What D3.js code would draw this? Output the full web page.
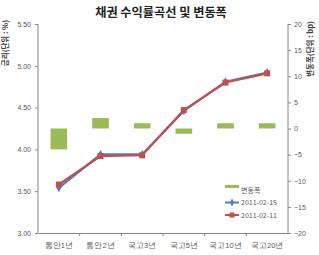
<!DOCTYPE html>
<html>
<head>
<meta charset="utf-8">
<script src="https://cdn.jsdelivr.net/npm/d3@7"></script>
<style>
  body { margin: 0; background: #fff; }
  svg { font-family: "Noto Sans CJK KR", "Noto Sans", sans-serif; }
</style>
</head>
<body>
<svg></svg>
<script>
const w = 319, h = 255;
const m = { top: 24, right: 31, bottom: 22, left: 38 };

const categories = ['통안1년', '통안2년', '국고3년', '국고5년', '국고10년', '국고20년'];
const yield0215 = [3.54, 3.94, 3.94, 4.46, 4.81, 4.92];
const yield0211 = [3.58, 3.92, 3.93, 4.47, 4.80, 4.91];
const changeBp = [-4, 2, 1, -1, 1, 1];
const leftTicks = [3.00, 3.50, 4.00, 4.50, 5.00, 5.50];
const rightTicks = [-20, -15, -10, -5, 0, 5, 10, 15, 20];

const svg = d3.select('svg').attr('width', w).attr('height', h);

const x = d3.scaleBand().domain(categories).range([m.left, w - m.right]);
const y = d3.scaleLinear().domain([3, 5.5]).range([h - m.bottom, m.top]);
const y2 = d3.scaleLinear().domain([-20, 20]).range([h - m.bottom, m.top]);

const gray = '#868686';
const txt = '#595959';

// title
svg.append('text')
  .attr('x', 161).attr('y', 17)
  .attr('text-anchor', 'middle')
  .attr('font-size', 12.2).attr('font-weight', 'bold').attr('fill', '#222')
  .text('채권 수익률곡선 및 변동폭');

// bars (change, right axis)
svg.append('g').selectAll('rect')
  .data(changeBp)
  .enter()
  .append('rect')
  .attr('x', (d, i) => x(categories[i]) + x.bandwidth() * 0.3)
  .attr('width', x.bandwidth() * 0.4)
  .attr('y', d => y2(Math.max(0, d)))
  .attr('height', d => Math.abs(y2(d) - y2(0)))
  .attr('fill', '#9BBB59');

// axes
const yAxis = d3.axisLeft(y).tickValues(leftTicks).tickFormat(d3.format('.2f')).tickSize(3).tickPadding(4);
const gy = svg.append('g').attr('transform', 'translate(' + m.left + ',0)').call(yAxis);

const y2Axis = d3.axisRight(y2).tickValues(rightTicks).tickSize(3).tickPadding(3);
const gy2 = svg.append('g').attr('transform', 'translate(' + (w - m.right) + ',0)').call(y2Axis);

const xAxis = d3.axisBottom(x).tickSize(0).tickPadding(10);
const gx = svg.append('g').attr('transform', 'translate(0,' + (h - m.bottom) + ')').call(xAxis);

// ticks between categories
gx.selectAll('.sep')
  .data(categories.slice(1))
  .enter()
  .append('line')
  .attr('x1', d => x(d)).attr('x2', d => x(d))
  .attr('y1', 0).attr('y2', 3)
  .attr('stroke', gray);

[gy, gy2, gx].forEach(g => {
  g.selectAll('.domain').attr('stroke', gray);
  g.selectAll('.tick line').attr('stroke', gray);
  g.selectAll('.tick text').attr('fill', txt).attr('font-size', 7);
});
gy.select('.domain').attr('d', 'M0,' + m.top + 'V' + (h - m.bottom));
gy2.select('.domain').attr('d', 'M0,' + m.top + 'V' + (h - m.bottom));
gx.selectAll('.tick text').attr('font-size', 7.5);

// axis titles
svg.append('text')
  .attr('transform', 'translate(8,43) rotate(-90)')
  .attr('text-anchor', 'middle')
  .attr('font-size', 7.5).attr('font-weight', 'bold').attr('fill', '#404040')
  .text('금리(단위 : %)');

svg.append('text')
  .attr('transform', 'translate(313,49) rotate(-90)')
  .attr('text-anchor', 'middle')
  .attr('font-size', 7.5).attr('font-weight', 'bold').attr('fill', '#404040')
  .text('변동폭(단위 : bp)');

// lines
const line = d3.line()
  .x((d, i) => x(categories[i]) + x.bandwidth() / 2)
  .y(d => y(d));

svg.append('path')
  .datum(yield0215)
  .attr('d', line)
  .attr('fill', 'none').attr('stroke', '#4F81BD').attr('stroke-width', 2.2);

svg.append('g').selectAll('path')
  .data(yield0215)
  .enter()
  .append('path')
  .attr('d', d3.symbol(d3.symbolDiamond, 22))
  .attr('transform', (d, i) => 'translate(' + (x(categories[i]) + x.bandwidth() / 2) + ',' + y(d) + ')')
  .attr('fill', '#4F81BD');

svg.append('path')
  .datum(yield0211)
  .attr('d', line)
  .attr('fill', 'none').attr('stroke', '#C0504D').attr('stroke-width', 2.2);

svg.append('g').selectAll('rect')
  .data(yield0211)
  .enter()
  .append('rect')
  .attr('x', (d, i) => x(categories[i]) + x.bandwidth() / 2 - 3)
  .attr('y', d => y(d) - 3)
  .attr('width', 6).attr('height', 6)
  .attr('fill', '#C0504D');

// legend
const legend = svg.append('g').attr('transform', 'translate(225,193)');
const items = [
  { name: '변동폭', color: '#9BBB59', type: 'bar' },
  { name: '2011-02-15', color: '#4F81BD', type: 'diamond' },
  { name: '2011-02-11', color: '#C0504D', type: 'square' }
];
items.forEach((it, i) => {
  const g = legend.append('g').attr('transform', 'translate(0,' + (i * 12.5 - 3) + ')');
  if (it.type === 'bar') {
    g.append('rect').attr('x', 0).attr('y', -5).attr('width', 14).attr('height', 3).attr('fill', it.color);
  } else {
    g.append('line').attr('x1', 0).attr('x2', 14).attr('y1', 0).attr('y2', 0)
      .attr('stroke', it.color).attr('stroke-width', 2);
    if (it.type === 'diamond') {
      g.append('path').attr('d', d3.symbol(d3.symbolDiamond, 18)).attr('transform', 'translate(7,0)').attr('fill', it.color);
    } else {
      g.append('rect').attr('x', 4.5).attr('y', -2.5).attr('width', 5).attr('height', 5).attr('fill', it.color);
    }
  }
  g.append('text').attr('x', 16).attr('y', 2.5)
    .attr('font-size', 7).attr('fill', txt)
    .text(it.name);
});
</script>
</body>
</html>
